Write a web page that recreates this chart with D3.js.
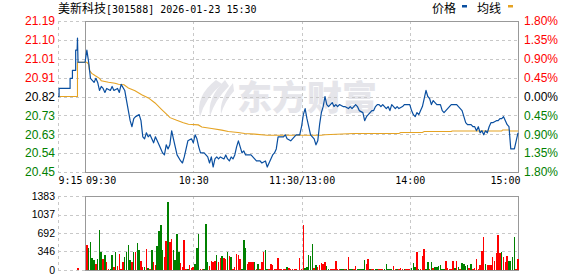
<!DOCTYPE html>
<html>
<head>
<meta charset="utf-8">
<script src="https://cdn.jsdelivr.net/npm/d3@7"></script>
<style>
  body { margin: 0; background: #fff; }
  svg { display: block; }
</style>
</head>
<body>
<div id="chart"></div>
<script>
// values
const stockName = "美新科技";
const stockInfo = "[301588] 2026-01-23 15:30";
const legendNames = ["价格", "均线"];
const preClose = 20.82;

const pctSteps = [1.80, 1.35, 0.90, 0.45, 0, -0.45, -0.90, -1.35, -1.80];
const priceLabels = ["21.19", "21.10", "21.01", "20.91", "20.82", "20.73", "20.63", "20.54", "20.45"];
const pctLabels = ["1.80%", "1.35%", "0.90%", "0.45%", "0.00%", "0.45%", "0.90%", "1.35%", "1.80%"];

const timeTicks = [-15, 0, 60, 120, 180, 240];   // minutes after 9:30 (trading time)
const timeLabels = ["9:15", "09:30", "10:30", "11:30/13:00", "14:00", "15:00"];

const volTicks = [0, 346, 692, 1037, 1383];
const volLabels = ["0", "346", "692", "1037", "1383"];

// [minute, price]  (minute -15 = 9:15 auction)
const pricePoints = [
  [-15,20.82],[-14.4,20.82],[-14.4,20.86],[-8.3,20.86],[-8.3,20.91],[-7,20.91],[-7,20.95],
  [-5.2,20.95],[-5.2,21.05],[-4.4,21.05],[-4.2,21.11],[-3.9,20.99],[0,20.99],
  [1,21.05],[2,20.99],[3,20.91],[4,20.90],[5,20.89],[6,20.91],[7,20.89],[8,20.85],[9,20.87],
  [10,20.86],[11,20.84],[12,20.86],[14,20.85],[15,20.87],[16,20.85],[18,20.86],[19,20.84],
  [20,20.88],[22,20.85],[23,20.80],[24,20.75],[25,20.70],[26,20.67],[27,20.71],[28,20.72],
  [30,20.73],[31,20.70],[32,20.62],[33,20.61],[34,20.64],[35,20.62],[36,20.63],[37,20.61],
  [38,20.59],[39,20.62],[40,20.60],[41,20.58],[43,20.54],[44,20.53],[45,20.58],[46,20.56],
  [47,20.58],[48,20.65],[49,20.61],[50,20.57],[51,20.53],[53,20.50],[54,20.49],[55,20.52],
  [56,20.56],[57,20.60],[59,20.61],[60,20.59],[61,20.63],[62,20.61],[63,20.57],[64,20.54],
  [66,20.54],[67,20.53],[68,20.52],[69,20.49],[70,20.52],[71,20.47],[72,20.51],[73,20.52],
  [74,20.51],[75,20.52],[77,20.51],[78,20.53],[79,20.51],[80,20.50],[81,20.52],[82,20.51],
  [83,20.53],[84,20.57],[85,20.60],[86,20.57],[87,20.54],[88,20.55],[89,20.53],[92,20.53],
  [94,20.51],[95,20.50],[97,20.50],[98,20.49],[100,20.50],[101,20.47],[102,20.49],[104,20.53],
  [105,20.54],[106,20.56],[107,20.62],[108,20.62],[110,20.62],[111,20.63],[112,20.61],
  [114,20.60],[115,20.61],[117,20.63],[118,20.63],[119,20.63],[120,20.67],[121,20.73],
  [122,20.76],[123,20.71],[124,20.67],[125,20.63],[127,20.61],[128,20.58],[129,20.60],
  [130,20.68],[131,20.74],[132,20.77],[133,20.82],[134,20.78],[135,20.77],[136,20.78],
  [137,20.79],[138,20.77],[139,20.78],[140,20.77],[141,20.78],[143,20.77],[144,20.77],
  [146,20.76],[147,20.77],[148,20.76],[150,20.78],[151,20.77],[152,20.75],[154,20.74],
  [155,20.70],[156,20.72],[157,20.73],[159,20.75],[160,20.75],[161,20.77],[162,20.78],
  [163,20.78],[164,20.77],[165,20.78],[167,20.76],[168,20.77],[169,20.75],[170,20.78],
  [172,20.76],[173,20.77],[174,20.76],[176,20.77],[177,20.78],[178,20.78],[180,20.78],
  [181,20.75],[182,20.73],[183,20.72],[184,20.74],[185,20.73],[186,20.75],[187,20.77],
  [188,20.81],[189,20.85],[190,20.82],[191,20.81],[192,20.78],[193,20.80],[194,20.79],
  [195,20.78],[197,20.78],[198,20.75],[199,20.74],[200,20.75],[201,20.76],[202,20.77],
  [203,20.78],[205,20.78],[206,20.78],[207,20.77],[208,20.76],[209,20.75],[210,20.72],
  [211,20.69],[212,20.68],[214,20.68],[215,20.67],[216,20.67],[217,20.65],[218,20.67],
  [219,20.64],[220,20.65],[221,20.63],[222,20.65],[223,20.64],[224,20.67],[225,20.69],
  [226,20.69],[228,20.70],[229,20.70],[230,20.71],[231,20.71],[232,20.72],[233,20.70],
  [234,20.68],[235,20.67],[236,20.56],[238,20.56],[239,20.60],[240,20.64]
];

// average price line [minute, price]
const avgPoints = [
  [-15,20.82],[-4.2,20.82],[-4.2,20.99],[1,20.99],[2,20.98],[2.4,20.95],[3.7,20.935],
  [5.5,20.924],[8,20.91],[9,20.898],[13,20.891],[16.6,20.886],[18.5,20.881],[21.6,20.878],
  [24,20.862],[27.7,20.849],[31.4,20.829],[35.1,20.813],[38.8,20.788],[42.5,20.755],
  [45.3,20.731],[47.1,20.715],[50.8,20.702],[54.5,20.69],[57.3,20.682],[62.8,20.679],
  [64.7,20.669],[70.2,20.661],[75.8,20.653],[79.4,20.646],[84.8,20.641],[88.5,20.636],
  [94,20.633],[101,20.628],[131,20.628],[133,20.630],[149,20.636],[174,20.636],[175,20.641],
  [187,20.641],[188,20.646],[203,20.646],[203.5,20.649],[231,20.649],[231.5,20.654],
  [235,20.654],[235.5,20.649],[240,20.649]
];

// auction volume (9:26)
const preVolMinute = -4;
const preVolValue = 37;
const preVolSide = "r";

// minute volumes 1..240
const volumes = [
  467,411,523,224,187,112,206,748,336,206,
  280,150,19,19,280,56,336,75,299,19,
  150,243,336,467,187,150,336,336,505,374,
  168,56,56,392,37,19,374,150,93,449,
  729,841,374,243,542,1271,523,579,374,187,
  673,336,131,56,561,19,19,93,37,56,
  112,411,673,19,19,19,860,150,75,168,
  150,168,280,150,224,262,224,206,336,262,
  243,19,56,299,280,206,19,561,411,112,
  150,150,150,150,19,112,19,150,336,374,
  19,19,112,93,19,19,224,19,19,19,
  19,56,37,19,19,19,19,0,224,19,
  841,37,56,280,262,486,37,93,56,93,
  131,112,150,75,19,19,19,19,168,19,
  19,19,19,19,19,243,19,19,19,75,
  19,19,19,19,187,112,206,19,19,19,
  19,19,19,19,19,19,112,19,19,19,
  75,19,19,19,37,19,19,19,19,19,
  37,131,56,336,19,19,262,392,19,150,
  19,150,37,56,56,75,93,19,19,168,
  37,19,19,168,37,168,56,19,131,112,
  75,93,37,112,19,37,206,19,93,355,
  617,112,93,93,93,243,168,318,654,318,
  336,243,150,262,168,168,243,617,19,206
];
// r = up minute, g = down minute
const volSides = (
  "rggggrgggr" + "grrggrgrrr" + "rggggrgrgg" + "rrgrgrgrrg" + "gggrrgrrgg" +
  "ggrrrrgrrr" + "gggrrgggrr" + "rrgrrgrrgr" + "grrrrrgggr" + "rrrgrgrrrg" +
  "grrrrrrrrr" + "rgrrrrrrrr" + "rgggggrgrr" + "rrrggrrrrr" + "rggrgrggrr" +
  "gggggrrgrr" + "ggrrrggggg" + "rrgrrrgrrr" + "gggrgrrrgg" + "rgrggggggr" +
  "rrrrgrgrgg" + "ggrgrrrrrr" + "rgrrrrrrrr" + "grrrggggrr"
).split("");

const W = 578, H = 276;
const red = "#ff0000", green = "#008000";
const gridColor = "#c8c8c8", frameColor = "#999";
const numFont = "'Liberation Sans', Arial, sans-serif";
const monoFont = "'DejaVu Sans Mono', monospace";
const cjkFont = "'Noto Sans CJK SC', sans-serif";

const svg = d3.select("#chart").append("svg")
  .attr("width", W).attr("height", H)
  .attr("viewBox", [0, 0, W, H].join(" "));

// scales
const xTime = d3.scaleLinear().domain([-15, 240]).range([58, 518]);
const priceLow = preClose * (1 - 0.018), priceHigh = preClose * (1 + 0.018);
const yPrice = d3.scaleLinear().domain([priceLow, priceHigh]).range([172, 21]);
const yVol = d3.scaleLinear().domain([0, 1383]).range([270, 196]);
const tickPrice = pctSteps.map(p => preClose * (1 + p / 100));

const x0 = xTime(-15), xOpen = xTime(0), xEnd = xTime(240);

// title
const title = svg.append("text").attr("x", 58).attr("y", 13)
  .attr("font-size", 12).attr("fill", "#000");
title.append("tspan").attr("font-family", cjkFont).text(stockName);
title.append("tspan").attr("font-family", monoFont).attr("font-size", 10)
  .attr("dy", 0).text(stockInfo);

// legend
svg.append("text").attr("x", 432).attr("y", 13).attr("font-family", cjkFont)
  .attr("font-size", 12).text(legendNames[0]);
svg.append("rect").attr("x", 462).attr("y", 5).attr("width", 5).attr("height", 2.5).attr("fill", "#0a4fa0");
svg.append("text").attr("x", 477).attr("y", 13).attr("font-family", cjkFont)
  .attr("font-size", 12).text(legendNames[1]);
svg.append("rect").attr("x", 508).attr("y", 5).attr("width", 5).attr("height", 2.5).attr("fill", "#e5a323");

// watermark
const wm = svg.append("g").attr("fill", "#e5e5ea");
wm.append("path").attr("d", "M216,80 Q195,96 200,117 Q205,98 222,84 Z");
wm.append("path").attr("d", "M225,80 Q207,98 210,116 Q215,100 229,86 Z");
wm.append("path").attr("d", "M233,83 Q219,100 221,114 Q225,101 234,91 Z");
wm.append("text").attr("x", 237).attr("y", 110)
  .attr("font-family", cjkFont).attr("font-weight", 900).attr("font-size", 34)
  .attr("textLength", 140).attr("lengthAdjust", "spacingAndGlyphs").text("东方财富");

// price grid
const grid = svg.append("g").attr("stroke", gridColor).attr("stroke-dasharray", "3,3")
  .attr("shape-rendering", "crispEdges");
grid.selectAll(".hp").data(tickPrice).enter().append("line")
  .attr("x1", x0).attr("x2", xEnd)
  .attr("y1", d => Math.round(yPrice(d)) + 0.5).attr("y2", d => Math.round(yPrice(d)) + 0.5);
grid.selectAll(".vp").data([-15, 60, 120, 180]).enter().append("line")
  .attr("x1", d => Math.round(xTime(d)) + 0.5).attr("x2", d => Math.round(xTime(d)) + 0.5)
  .attr("y1", yPrice(priceHigh)).attr("y2", yPrice(priceLow));

// volume grid
grid.selectAll(".hv").data(volTicks).enter().append("line")
  .attr("x1", x0).attr("x2", xEnd)
  .attr("y1", d => Math.round(yVol(d)) + 0.5).attr("y2", d => Math.round(yVol(d)) + 0.5);
grid.selectAll(".vv").data([-15, 60, 120, 180]).enter().append("line")
  .attr("x1", d => Math.round(xTime(d)) + 0.5).attr("x2", d => Math.round(xTime(d)) + 0.5)
  .attr("y1", yVol(1383)).attr("y2", yVol(0));

// frames
svg.append("rect").attr("x", Math.round(xOpen) + 0.5).attr("y", Math.round(yPrice(priceHigh)) + 0.5)
  .attr("width", Math.round(xEnd) - Math.round(xOpen))
  .attr("height", Math.round(yPrice(priceLow)) - Math.round(yPrice(priceHigh)))
  .attr("fill", "none").attr("stroke", frameColor).attr("shape-rendering", "crispEdges");
svg.append("rect").attr("x", Math.round(xOpen) + 0.5).attr("y", Math.round(yVol(1383)) + 0.5)
  .attr("width", Math.round(xEnd) - Math.round(xOpen))
  .attr("height", Math.round(yVol(0)) - Math.round(yVol(1383)))
  .attr("fill", "none").attr("stroke", frameColor).attr("shape-rendering", "crispEdges");

// volume bars
const volData = volumes.map((v, i) => ({ m: i + 1, v: v, s: volSides[i] }));
volData.unshift({ m: preVolMinute, v: preVolValue, s: preVolSide });
svg.append("g").attr("shape-rendering", "crispEdges")
  .selectAll("rect").data(volData.filter(d => d.v > 0)).enter().append("rect")
  .attr("x", d => xTime(d.m) - 0.8)
  .attr("y", d => yVol(d.v))
  .attr("width", 1.5)
  .attr("height", d => yVol(0) - yVol(d.v))
  .attr("fill", d => d.s === "r" ? red : green);

// lines
const line = d3.line().x(d => xTime(d[0])).y(d => yPrice(d[1]));
svg.append("path").datum(avgPoints).attr("d", line)
  .attr("fill", "none").attr("stroke", "#e5a323").attr("stroke-width", 1.1);
svg.append("path").datum(pricePoints).attr("d", line)
  .attr("fill", "none").attr("stroke", "#0a4fa0").attr("stroke-width", 1.2)
  .attr("stroke-linejoin", "round");

// axes
function styleAxis(g, font, size) {
  g.select(".domain").remove();
  g.selectAll("text").attr("font-family", font).attr("font-size", size);
}
function tickColor(i) {
  return pctSteps[i] > 0 ? red : pctSteps[i] < 0 ? green : "#000";
}

const leftAxis = svg.append("g").attr("transform", "translate(58,0)")
  .call(d3.axisLeft(yPrice).tickValues(tickPrice).tickSize(0).tickPadding(3)
    .tickFormat((d, i) => priceLabels[i]));
styleAxis(leftAxis, numFont, 12);
leftAxis.selectAll("text").attr("fill", (d, i) => tickColor(i));

const rightAxis = svg.append("g").attr("transform", "translate(521,0)")
  .call(d3.axisRight(yPrice).tickValues(tickPrice).tickSize(0).tickPadding(3)
    .tickFormat((d, i) => pctLabels[i]));
styleAxis(rightAxis, numFont, 12);
rightAxis.selectAll("text").attr("fill", (d, i) => tickColor(i));

const timeAxis = svg.append("g").attr("transform", "translate(0,174)")
  .call(d3.axisBottom(xTime).tickValues(timeTicks).tickSize(0).tickPadding(3)
    .tickFormat((d, i) => timeLabels[i]));
styleAxis(timeAxis, monoFont, 10);
timeAxis.selectAll("text").attr("fill", "#000")
  .attr("text-anchor", (d, i) => i < 2 ? "start" : i === timeTicks.length - 1 ? "end" : "middle")
  .attr("dx", (d, i) => i === 1 ? 0.5 : i === timeTicks.length - 1 ? 2 : 0);

const volAxis = svg.append("g").attr("transform", "translate(58,0)")
  .call(d3.axisLeft(yVol).tickValues(volTicks).tickSize(0).tickPadding(3)
    .tickFormat((d, i) => volLabels[i]));
styleAxis(volAxis, numFont, 10.5);
volAxis.selectAll("text").attr("fill", "#000");
</script>
</body>
</html>
